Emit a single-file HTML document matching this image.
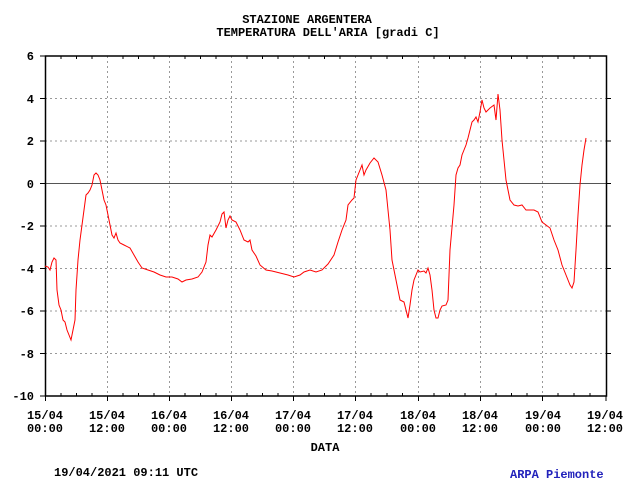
<!DOCTYPE html>
<html><head><meta charset="utf-8"><style>
body{margin:0;background:#fff;width:640px;height:480px;overflow:hidden}
svg text{font-family:"Liberation Mono",monospace;font-weight:bold;font-size:12px;fill:#000}
</style></head><body>
<svg width="640" height="480" xmlns="http://www.w3.org/2000/svg">
<text x="307" y="23" text-anchor="middle">STAZIONE ARGENTERA</text>
<text x="328" y="36" text-anchor="middle">TEMPERATURA DELL'ARIA [gradi C]</text>
<g stroke="#999" stroke-dasharray="2,3" stroke-width="1">
<path d="M107.5 56V396M169.5 56V396M231.5 56V396M293.5 56V396M355.5 56V396M418.5 56V396M480.5 56V396M542.5 56V396"/>
<path d="M45 98.5H606M45 141H606M45 226H606M45 268.5H606M45 311H606M45 353.5H606"/>
</g>
<path d="M45 183.5H606" stroke="#555" stroke-width="1"/>
<rect x="45.5" y="56" width="561" height="340" fill="none" stroke="#000" stroke-width="1.5"/>
<g stroke="#000" stroke-width="1">
<path d="M45.5 396v5M61 396v-3M76.5 396v-3M92 396v-3M107.5 396v5M123 396v-3M138.5 396v-3M154 396v-3M169.5 396v5M185 396v-3M200.5 396v-3M216 396v-3M231.5 396v5M247 396v-3M262.5 396v-3M278 396v-3M293.5 396v5M309 396v-3M324.5 396v-3M340 396v-3M355.5 396v5M371 396v-3M387 396v-3M402.5 396v-3M418.5 396v5M434 396v-3M449.5 396v-3M465 396v-3M480.5 396v5M496 396v-3M511.5 396v-3M527 396v-3M542.5 396v5M558 396v-3M574 396v-3M590 396v-3M606 396v5"/>
<path d="M61 56v3M76.5 56v3M92 56v3M123 56v3M138.5 56v3M154 56v3M185 56v3M200.5 56v3M216 56v3M247 56v3M262.5 56v3M278 56v3M309 56v3M324.5 56v3M340 56v3M371 56v3M387 56v3M402.5 56v3M434 56v3M449.5 56v3M465 56v3M496 56v3M511.5 56v3M527 56v3M558 56v3M574 56v3M590 56v3"/>
<path d="M40 56h5M40 98.5h5M40 141h5M40 183.5h5M40 226h5M40 268.5h5M40 311h5M40 353.5h5M40 396h5M606 98.5h5M606 141h5M606 183.5h5M606 226h5M606 268.5h5M606 311h5M606 353.5h5"/>
</g>
<g text-anchor="end">
<text x="34" y="60">6</text><text x="34" y="103">4</text><text x="34" y="145">2</text><text x="34" y="188">0</text>
<text x="34" y="230">-2</text><text x="34" y="273">-4</text><text x="34" y="315">-6</text><text x="34" y="358">-8</text><text x="34" y="400">-10</text>
</g>
<g text-anchor="middle">
<text x="45" y="419">15/04</text><text x="45" y="432">00:00</text>
<text x="107" y="419">15/04</text><text x="107" y="432">12:00</text>
<text x="169" y="419">16/04</text><text x="169" y="432">00:00</text>
<text x="231" y="419">16/04</text><text x="231" y="432">12:00</text>
<text x="293" y="419">17/04</text><text x="293" y="432">00:00</text>
<text x="355" y="419">17/04</text><text x="355" y="432">12:00</text>
<text x="418" y="419">18/04</text><text x="418" y="432">00:00</text>
<text x="480" y="419">18/04</text><text x="480" y="432">12:00</text>
<text x="543" y="419">19/04</text><text x="543" y="432">00:00</text>
<text x="605" y="419">19/04</text><text x="605" y="432">12:00</text>
<text x="325" y="451">DATA</text>
</g>
<text x="54" y="476">19/04/2021 09:11 UTC</text>
<text x="510" y="478" style="fill:#2222bb">ARPA Piemonte</text>
<polyline fill="none" stroke="#f00" stroke-width="1" points="45,266 48,267 50,270 52,262 54,258 56,260 57,290 59,305 61,310 63,320 65,322 67,330 69,335 71,340 73,330 75,320 76,290 78,260 80,240 82,225 84,210 86,195 88,193 90,190 92,185 94,175 96,173 98,175 100,180 102,190 104,200 106,205 108,215 110,225 112,235 114,238 116,233 118,240 120,243 124,245 130,248 134,255 138,262 142,268 148,270 154,272 160,275 166,277 172,277 178,279 182,282 186,280 192,279 198,277 202,272 206,262 208,245 210,235 212,237 216,230 220,222 222,214 224,212 226,228 228,220 230,216 232,220 236,222 240,230 244,240 248,242 250,240 252,250 256,256 260,265 266,270 272,271 280,273 288,275 294,277 300,275 304,272 310,270 316,272 322,270 328,264 334,255 338,242 342,230 346,220 348,205 352,200 354,198 356,180 360,170 362,165 364,175 366,170 370,163 374,158 378,162 382,175 386,190 388,210 390,230 392,260 396,280 400,300 404,302 406,310 408,318 410,305 412,290 414,280 418,270 420,272 424,271 426,273 428,268 430,275 432,290 434,310 436,318 438,318 440,310 442,306 446,305 448,300 450,250 454,205 456,175 458,168 460,165 462,155 464,150 466,145 468,138 470,130 472,122 474,120 476,117 478,122 480,112 482,100 484,108 486,112 490,108 494,105 496,120 498,94 500,110 502,140 504,160 506,180 508,190 510,200 514,205 518,206 522,205 526,210 530,210 534,210 538,212 542,222 546,225 550,228 554,240 558,250 562,265 566,275 570,285 572,288 574,282 576,250 578,215 580,185 582,165 584,150 586,138"/>
</svg>
</body></html>
